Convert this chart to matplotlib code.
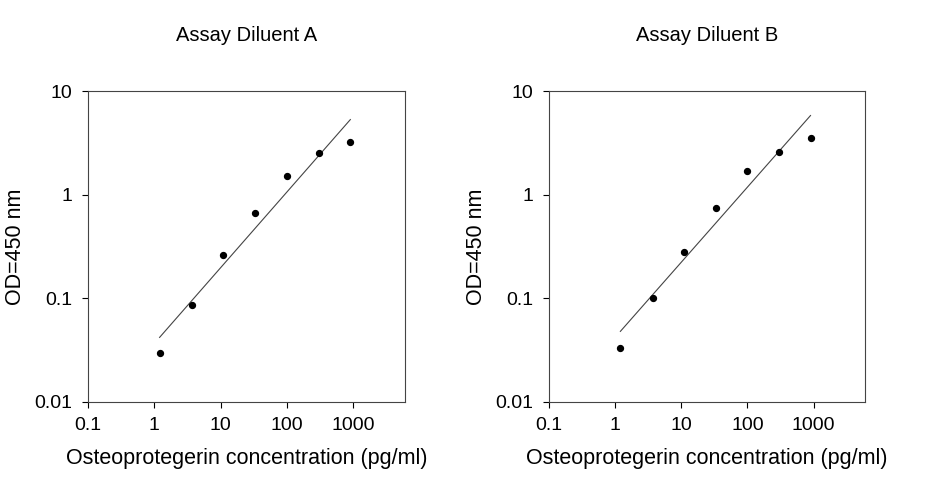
import numpy as np
import matplotlib.pyplot as plt

plt.rcParams['font.family'] = ['Liberation Sans', 'DejaVu Sans']

conc = [1.2, 3.7, 11, 33, 100, 300, 900]
od_a = [0.030, 0.086, 0.26, 0.66, 1.5, 2.5, 3.2]
od_b = [0.033, 0.10, 0.28, 0.75, 1.7, 2.6, 3.5]
fit_x = [1.2, 900]
fit_a = [0.042, 5.3]
fit_b = [0.048, 5.8]
titles = ['Assay Diluent A', 'Assay Diluent B']

fig = plt.figure(figsize=(9.26, 4.8), dpi=100)
boxes = [[88/926, 78/480, 317/926, 311/480], [549/926, 78/480, 316/926, 311/480]]

for box, od, fit, title in zip(boxes, [od_a, od_b], [fit_a, fit_b], titles):
    ax = fig.add_axes(box)
    ax.plot(fit_x, fit, color='#444444', lw=0.8)
    ax.scatter(conc, od, s=18, color='black', zorder=3)
    ax.set_xscale('log')
    ax.set_yscale('log')
    ax.set_xlim(0.1, 6000)
    ax.set_ylim(0.01, 10)
    ax.set_xticks([0.1, 1, 10, 100, 1000])
    ax.set_xticklabels(['0.1', '1', '10', '100', '1000'])
    ax.set_yticks([0.01, 0.1, 1, 10])
    ax.set_yticklabels(['0.01', '0.1', '1', '10'])
    ax.minorticks_off()
    ax.tick_params(labelsize=14, length=4, width=0.8, pad=7)
    for s in ax.spines.values():
        s.set_linewidth(0.8)
        s.set_color('#444444')
    ax.set_xlabel('Osteoprotegerin concentration (pg/ml)', fontsize=15.5, labelpad=10)
    ax.set_ylabel('OD=450 nm', fontsize=15.5, labelpad=6)
    ax.set_title(title, fontsize=14.5, pad=36)

fig.savefig('out.png', dpi=100)
